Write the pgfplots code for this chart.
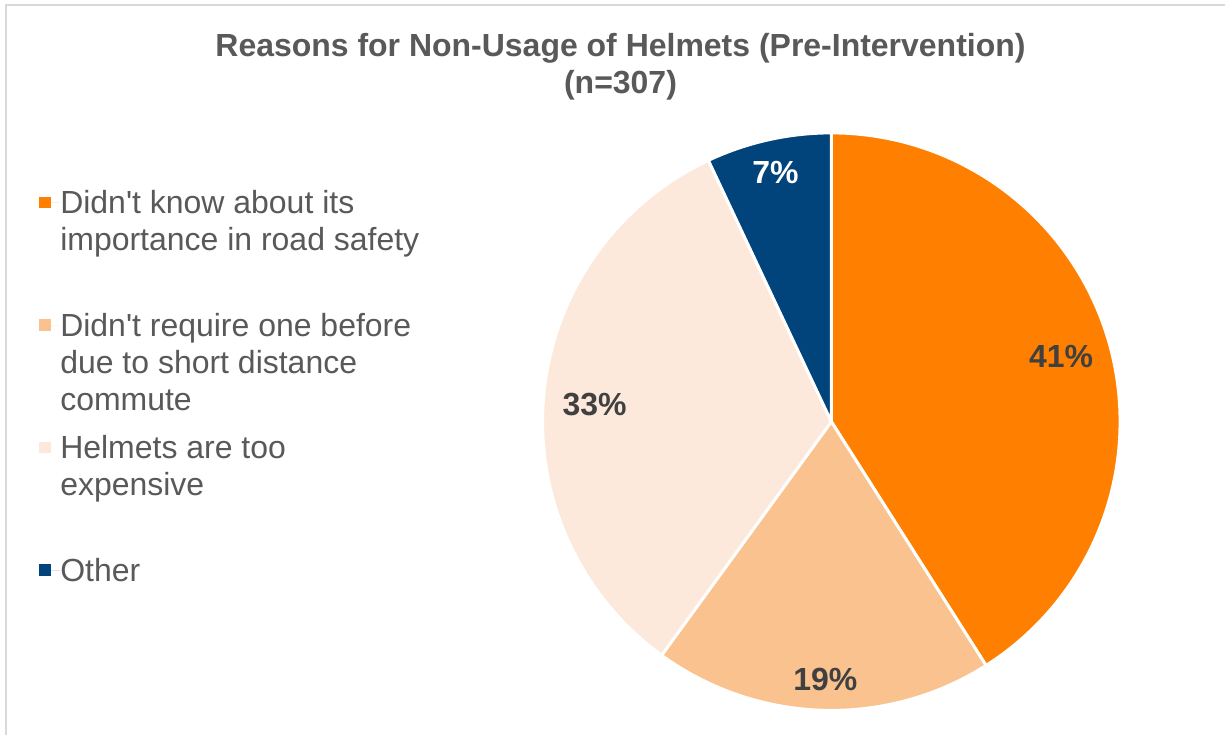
\documentclass[border=0pt]{standalone}
\usepackage{fontspec}
\setmainfont{Liberation Sans}
\usepackage{pgfplots}
\usepackage{pgfplotstable}
\pgfplotsset{compat=1.18}
\definecolor{cA}{HTML}{FF7F00}
\definecolor{cB}{HTML}{F9C28F}
\definecolor{cC}{HTML}{FCE9DB}
\definecolor{cD}{HTML}{00447B}
\definecolor{txt}{HTML}{595959}
\definecolor{lbl}{HTML}{404040}
\definecolor{frame}{HTML}{D9D9D9}

\pgfplotstableread{
value
41
19
33
7
}\piedata

\pgfplotstablegetelem{0}{value}\of\piedata \pgfmathsetmacro\aA{90-3.6*\pgfplotsretval}
\pgfplotstablegetelem{1}{value}\of\piedata \pgfmathsetmacro\aB{\aA-3.6*\pgfplotsretval}
\pgfplotstablegetelem{2}{value}\of\piedata \pgfmathsetmacro\aC{\aB-3.6*\pgfplotsretval}
\pgfplotstablegetelem{3}{value}\of\piedata \pgfmathsetmacro\aD{\aC-3.6*\pgfplotsretval}

\newcommand{\lfont}{\fontsize{24}{27.75}\selectfont}
\newcommand{\ent}[1]{\parbox[t]{12cm}{\lfont\rule{0pt}{18pt}#1}}

\begin{document}
\begin{tikzpicture}
\begin{axis}[
  x=0.75pt, y=0.75pt,
  xmin=0, xmax=1226, ymin=0, ymax=736,
  hide axis, clip=false,
  legend cell align=left,
  legend image code/.code={\fill[#1, draw=none] (0pt,-4pt) rectangle (9pt,4.7pt); \path[draw=none] (9pt,0pt) -- (16pt,0pt);},
  legend style={at={(axis cs:39,546)}, anchor=north west, draw=none, fill=none,
    inner sep=0pt, outer sep=0pt, row sep=72.5pt, column sep=0pt,
    font=\lfont, text=txt, nodes={inner sep=0pt, outer sep=0pt}},
]
\path[fill=white] (axis cs:0,0) rectangle (axis cs:1226,736);
\draw[frame, line width=1.5pt] (axis cs:6.5,0) -- (axis cs:6.5,730.5) -- (axis cs:1226,730.5);

\addplot[forget plot, fill=cA, draw=white, line width=2.25pt, line join=round, domain=\aA:90, samples=120]
  ({832+289*cos(x)},{314+289*sin(x)}) -- (axis cs:832,314) -- cycle;
\addplot[forget plot, fill=cB, draw=white, line width=2.25pt, line join=round, domain=\aB:\aA, samples=80]
  ({832+289*cos(x)},{314+289*sin(x)}) -- (axis cs:832,314) -- cycle;
\addplot[forget plot, fill=cC, draw=white, line width=2.25pt, line join=round, domain=\aC:\aB, samples=120]
  ({832+289*cos(x)},{314+289*sin(x)}) -- (axis cs:832,314) -- cycle;
\addplot[forget plot, fill=cD, draw=white, line width=2.25pt, line join=round, domain=\aD:\aC, samples=40]
  ({832+289*cos(x)},{314+289*sin(x)}) -- (axis cs:832,314) -- cycle;

\addlegendimage{fill=cA}
\addlegendentry{\ent{Didn\textquotesingle t know about its\\importance in road safety}}
\addlegendimage{fill=cB}
\addlegendentry{\ent{Didn\textquotesingle t require one before\\due to short distance\\commute}}
\addlegendimage{fill=cC}
\addlegendentry{\ent{Helmets are too\\expensive}}
\addlegendimage{fill=cD}
\addlegendentry{\ent{Other}}

\node[font=\lfont\bfseries, text=lbl] at (axis cs:1062,379) {41\%};
\node[font=\lfont\bfseries, text=lbl] at (axis cs:826,56) {19\%};
\node[font=\lfont\bfseries, text=lbl] at (axis cs:595,331) {33\%};
\node[font=\lfont\bfseries, text=white] at (axis cs:776,563) {7\%};

\node[font=\lfont\bfseries, text=txt, anchor=base] at (axis cs:621,679) {Reasons for Non-Usage of Helmets (Pre-Intervention)};
\node[font=\lfont\bfseries, text=txt, anchor=base] at (axis cs:621,642) {(n=307)};
\end{axis}
\end{tikzpicture}
\end{document}
